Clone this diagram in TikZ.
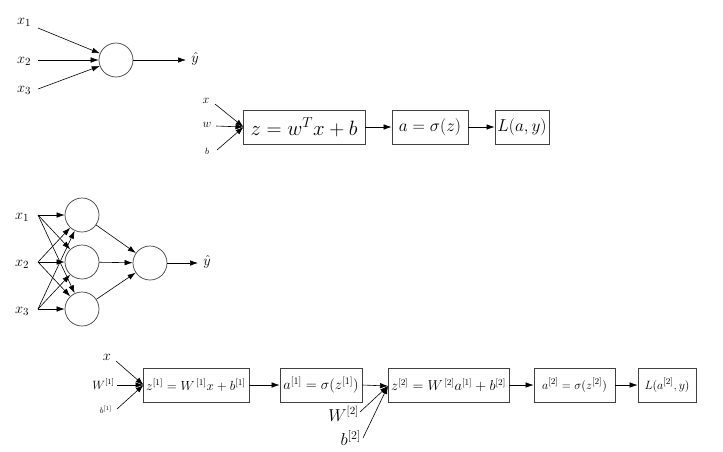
\documentclass[tikz,border=0pt]{standalone}
\usepackage{graphicx}
\usetikzlibrary{arrows.meta}
\newcommand{\fs}[1]{\fontsize{#1}{#1}\selectfont}
\begin{document}
\begin{tikzpicture}[x=1pt,y=-1pt,
  neuron/.style={circle,draw=black!75,line width=0.7pt,minimum size=34pt,inner sep=0pt},
  blk/.style={draw=black!75,line width=0.8pt,minimum height=34pt,inner sep=0pt},
  arr/.style={-{Latex[length=8pt,width=5.5pt]},line width=0.6pt},
  lbl/.style={inner sep=0pt}]
\useasboundingbox (0,0) rectangle (723,451);
% ---- single neuron
\node[neuron] (c0) at (116,60) {};
\node[lbl,font=\fs{15}] (tx1) at (24,22) {$x_1$};
\node[lbl,font=\fs{15}] (tx2) at (24,61) {$x_2$};
\node[lbl,font=\fs{15}] (tx3) at (24,90) {$x_3$};
\coordinate (s1) at (38,28);
\coordinate (s2) at (38,60);
\coordinate (s3) at (38,89);
\draw[arr] (s1) -- (c0);
\draw[arr] (s2) -- (c0);
\draw[arr] (s3) -- (c0);
\node[lbl,font=\fs{14}] (yh0) at (195,59) {$\hat{y}$};
\coordinate (e0) at (186,60);
\draw[arr] (c0) -- (e0);
% ---- logistic regression graph
\node[blk,minimum width=122pt,font=\fs{20.5}] (b1) at (304,127) {$z=w^{T}x+b$};
\node[blk,minimum width=76pt,font=\fs{18.5}] (b2) at (430,127) {$a=\sigma(z)$};
\node[blk,minimum width=54pt,font=\fs{16.5}] (b3) at (522,127) {$L(a,y)$};
\node[lbl,font=\fs{12}] (lx) at (206,101) {$x$};
\node[lbl,font=\fs{12}] (lw) at (207,125) {$w$};
\node[lbl,font=\fs{9}] (lb) at (207,151) {$b$};
\coordinate (sx) at (215,104);
\coordinate (sw) at (216,126);
\coordinate (sb) at (217,150);
\coordinate (t1) at (243.5,127);
\draw[arr] (sx) -- (t1);
\draw[arr] (sw) -- (t1);
\draw[arr] (sb) -- (t1);
\draw[arr] (b1) -- (b2);
\draw[arr] (b2) -- (b3);
% ---- two-layer network
\node[neuron] (h1) at (82,215) {};
\node[neuron] (h2) at (82,262) {};
\node[neuron] (h3) at (82,309) {};
\node[neuron] (o) at (150,263) {};
\node[lbl,font=\fs{15}] (ix1) at (22,217) {$x_1$};
\node[lbl,font=\fs{15}] (ix2) at (22,264) {$x_2$};
\node[lbl,font=\fs{15}] (ix3) at (22,311) {$x_3$};
\coordinate (p1) at (38,215);
\coordinate (p2) at (38,262);
\coordinate (p3) at (38,309);
\foreach \i in {1,2,3}{
  \foreach \j in {1,2,3}{
    \draw[arr] (p\i) -- (h\j);
  }
  \draw[arr] (h\i) -- (o);
}
\node[lbl,font=\fs{15}] (yh1) at (207,262) {$\hat{y}$};
\coordinate (e1) at (198,263);
\draw[arr] (o) -- (e1);
% ---- two-layer computation graph
\node[blk,minimum width=106pt,font=\fs{12}] (A) at (196,385) {\scalebox{1.1}{$z^{[1]}=W^{\,[1]}x+b^{[1]}$}};
\node[blk,minimum width=82pt,font=\fs{14.3}] (B) at (321,385) {$a^{[1]}=\sigma(z^{[1]})$};
\node[blk,minimum width=121pt,font=\fs{13.3}] (C) at (448.5,385) {$z^{[2]}=W^{\,[2]}a^{[1]}+b^{[2]}$};
\node[blk,minimum width=81pt,font=\fs{13}] (D) at (574.5,385) {$a^{[2]}=\sigma(z^{[2]})$};
\node[blk,minimum width=58pt,font=\fs{12.3}] (E) at (667,385) {$L(a^{[2]},y)$};
\node[lbl,font=\fs{14}] (qx) at (107,357) {$x$};
\node[lbl,font=\fs{11.5}] (qW) at (103.5,384) {$W^{[1]}$};
\node[lbl,font=\fs{8}] (qb) at (106,410) {$b^{[1]}$};
\coordinate (rx) at (116,361);
\coordinate (rW) at (117,385);
\coordinate (rb) at (117,409);
\coordinate (tA) at (143.5,385);
\draw[arr] (rx) -- (tA);
\draw[arr] (rW) -- (tA);
\draw[arr] (rb) -- (tA);
\draw[arr] (A) -- (B);
\node[lbl,font=\fs{16},anchor=east] (qW2) at (359,414) {$W^{[2]}$};
\node[lbl,font=\fs{17},anchor=east] (qb2) at (361,438) {$b^{[2]}$};
\coordinate (rW2) at (360,412);
\coordinate (rb2) at (363,438);
\coordinate (tC) at (388,386);
\draw[arr] (B.east) -- (tC);
\draw[arr] (rW2) -- (tC);
\draw[arr] (rb2) -- (tC);
\draw[arr] (C) -- (D);
\draw[arr] (D) -- (E);
\end{tikzpicture}
\end{document}
